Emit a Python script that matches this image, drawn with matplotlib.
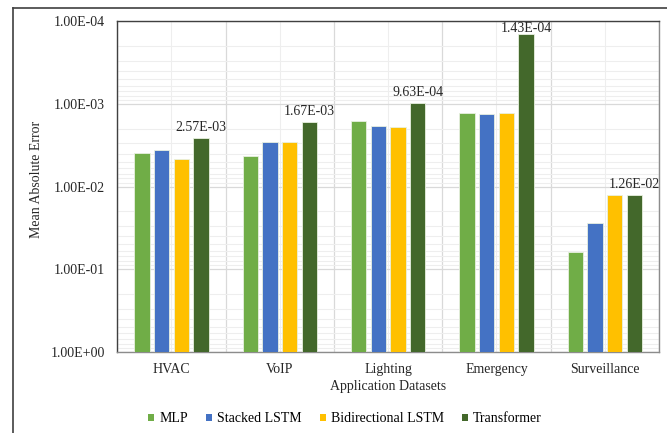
import numpy as np
import matplotlib
matplotlib.use("Agg")
import matplotlib.pyplot as plt
from matplotlib.ticker import FuncFormatter, LogLocator, FixedLocator
from matplotlib.lines import Line2D

categories = ["HVAC", "VoIP", "Lighting", "Emergency", "Surveillance"]
series_names = ["MLP", "Stacked LSTM", "Bidirectional LSTM", "Transformer"]
mlp = [3.93e-3, 4.24e-3, 1.63e-3, 1.30e-3, 6.21e-2]
stacked_lstm = [3.58e-3, 2.89e-3, 1.85e-3, 1.31e-3, 2.77e-2]
bi_lstm = [4.60e-3, 2.87e-3, 1.89e-3, 1.29e-3, 1.28e-2]
transformer = [2.57e-3, 1.67e-3, 9.63e-4, 1.43e-4, 1.26e-2]
label_texts = ["2.57E-03", "1.67E-03", "9.63E-04", "1.43E-04", "1.26E-02"]

colors = ["#70AD47", "#4472C4", "#FFC000", "#43682B"]

plt.rcParams['font.family'] = ['Liberation Serif', 'DejaVu Serif']

fig = plt.figure(figsize=(6.67, 4.33), dpi=100)
W, H = 667, 433
ax = fig.add_axes([117.3 / W, 1 - 351.7 / H, (659 - 117.3) / W, (351.7 - 21.3) / H])

x = np.arange(len(categories))
bw = 0.141
step = 0.181
data = [mlp, stacked_lstm, bi_lstm, transformer]
for i, (vals, c, name) in enumerate(zip(data, colors, series_names)):
    offs = (i - 1.5) * step
    vals = np.array(vals)
    ax.bar(x + offs, 1 - vals, bottom=vals, width=bw, color=c, label=name,
           edgecolor="#E8F0E0", linewidth=0.6, zorder=3)

ax.set_yscale("log")
ax.set_ylim(1, 1e-4)
ax.set_xlim(-0.5, len(categories) - 0.5)

# data labels above transformer bars, kept inside plot area (like Excel)
ax_h_px = 351.7 - 21.3
for xi, v, t in zip(x, transformer, label_texts):
    top_px_from_axes_top = (np.log10(v) + 4) / 4.0 * ax_h_px
    bottom_px = top_px_from_axes_top - 4
    if bottom_px - 13 < 0:
        bottom_px = 13 + 1
    y_frac = 1 - bottom_px / ax_h_px
    txt = ax.text(xi + 1.5 * step, y_frac, t, transform=ax.get_xaxis_transform(),
                  ha="center", va="bottom", fontsize=10, color="#262626", zorder=4)
    txt.set_clip_box(ax.bbox)
    txt.set_clip_on(True)

ax.yaxis.set_major_locator(LogLocator(base=10, numticks=10))
ax.yaxis.set_minor_locator(LogLocator(base=10, subs=np.arange(2, 10), numticks=20))
ax.yaxis.set_major_formatter(FuncFormatter(lambda v, p: "%.2E" % v))
ax.yaxis.set_minor_formatter(FuncFormatter(lambda v, p: ""))

ax.set_xticks(x)
ax.set_xticklabels(categories)
ax.xaxis.set_minor_locator(FixedLocator(np.arange(-0.5, len(categories), 1.0)))

ax.grid(True, which="major", axis="y", color="#D9D9D9", linewidth=0.9, zorder=0)
ax.grid(True, which="minor", axis="y", color="#EEEEEE", linewidth=0.8, zorder=0)
ax.grid(True, which="major", axis="x", color="#EEEEEE", linewidth=0.8, zorder=0)
ax.grid(True, which="minor", axis="x", color="#D9D9D9", linewidth=0.9, zorder=0)

ax.tick_params(axis="both", which="both", length=0, labelsize=10, colors="#262626")
ax.tick_params(axis="y", pad=9)
ax.tick_params(axis="x", pad=8)

for s in ["left", "top"]:
    ax.spines[s].set_color("#404040")
    ax.spines[s].set_linewidth(1.0)
for s in ["right", "bottom"]:
    ax.spines[s].set_color("#8C8C8C")
    ax.spines[s].set_linewidth(1.0)

ax.set_ylabel("Mean Absolute Error", fontsize=10, color="#262626", labelpad=3)
ax.yaxis.set_label_coords(-0.137, 0.52)
ax.set_xlabel("Application Datasets", fontsize=10, color="#262626", labelpad=3)

leg = fig.legend(loc="center", bbox_to_anchor=(345 / W, 1 - 419 / H), ncol=4,
                 frameon=False, fontsize=10, handlelength=0.45, handleheight=0.45,
                 handletextpad=0.35, columnspacing=1.3)
for h in leg.legend_handles:
    h.set_edgecolor("none")

# outer frame (partially visible)
fig.add_artist(Line2D([13 / W, 13 / W], [0, 1 - 8 / H], transform=fig.transFigure,
                      color="#404040", linewidth=1.2))
fig.add_artist(Line2D([13 / W, 1], [1 - 8 / H, 1 - 8 / H], transform=fig.transFigure,
                      color="#404040", linewidth=1.2))

fig.savefig("out.png", dpi=100)
